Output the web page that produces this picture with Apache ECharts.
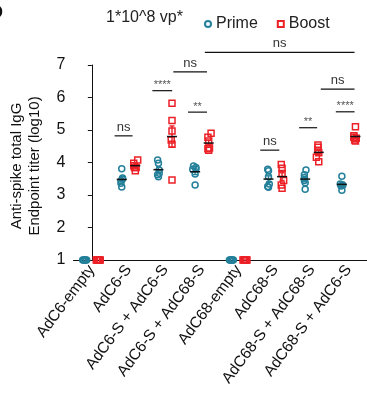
<!DOCTYPE html>
<html><head><meta charset="utf-8">
<script src="https://cdn.jsdelivr.net/npm/echarts@6/dist/echarts.min.js"></script>
<style>html,body{margin:0;padding:0;background:#fff}#c{width:367px;height:403px}</style>
</head><body><div id="c"></div>
<script>
const categories = ['AdC6-empty','AdC6-S','AdC6-S + AdC6-S','AdC6-S + AdC68-S','AdC68-empty','AdC68-S','AdC68-S + AdC68-S','AdC68-S + AdC6-S'];
const primeValues = [
  [1,1,1,1,1,1],
  [3.81,3.52,3.49,3.44,3.36,3.25],
  [4.08,3.98,3.77,3.67,3.62,3.56],
  [3.89,3.85,3.80,3.79,3.65,3.31],
  [1,1,1,1,1,1],
  [3.79,3.75,3.56,3.34,3.26,3.24],
  [3.77,3.62,3.54,3.45,3.38,3.18],
  [3.58,3.34,3.31,3.30,3.28,3.15]
];
const boostValues = [
  [1,1,1,1,1,1],
  [4.08,3.98,3.90,3.85,3.85,3.75],
  [5.82,5.29,4.97,4.69,4.56,3.46],
  [4.90,4.78,4.66,4.45,4.42,4.38],
  [1,1,1,1,1,1],
  [3.94,3.82,3.66,3.45,3.31,3.21],
  [4.54,4.47,4.38,4.30,4.16,4.02],
  [5.10,4.82,4.78,4.75,4.69,4.66]
];
const yTicks = [1,2,3,4,5,6,7];
const sigLabels = ['ns','****','ns','**','ns','ns','**','ns','****'];
const sigFrom   = [0.62,1.65,2.22,2.62,3.08,4.59,5.65,6.24,6.65];
const sigTo     = [1.11,2.19,3.14,3.14,7.16,5.11,6.14,7.16,7.16];
const sigY      = [4.82,6.21,6.79,5.55,7.39,4.38,5.07,6.26,5.56];

const TEAL = '#24809a', RED = '#ec2027';
const FONT = '"Liberation Sans", Arial, sans-serif';
const PX_X = 37, PX_Y = 32.5, GROUP_OFF = 0.185;

function swarm(vals){
  const order = vals.map((v,i)=>i).sort((a,b)=>vals[a]-vals[b]);
  const placed = [], off = new Array(vals.length);
  const cands = [0,-0.8,0.8,-1.6,1.6,-2.4,2.4];
  order.forEach(i=>{
    const y = vals[i]*PX_Y;
    let chosen = null, k = 0;
    for (const c of cands){
      let hit = false;
      placed.forEach(p=>{ if (Math.hypot(p.x-c,p.y-y) < 5) hit = true; });
      if (!hit){ chosen = c; break; }
    }
    if (chosen === null){
      placed.forEach(p=>{ if (Math.abs(p.y-y) < 5) k++; });
      chosen = cands[k % cands.length];
    }
    off[i] = chosen; placed.push({x:chosen,y});
  });
  return off;
}
function points(groups, sign){
  const out = [];
  groups.forEach((vals,gi)=>{
    const off = swarm(vals);
    vals.forEach((v,j)=> out.push([gi + sign*GROUP_OFF + off[j]/PX_X, v]));
  });
  return out;
}
function stats(groups, sign, ci){
  return groups.map((vals,gi)=>{
    const n = vals.length, m = vals.reduce((a,b)=>a+b,0)/n;
    const sd = Math.sqrt(vals.reduce((a,b)=>a+(b-m)*(b-m),0)/(n-1));
    return [gi + sign*GROUP_OFF, m, sd/Math.sqrt(n), ci];
  });
}
function renderMean(params, api){
  const x = api.value(0), m = api.value(1), s = api.value(2), ci = api.value(3);
  const c = api.coord([x,m]), t = api.coord([x,m+s]), b = api.coord([x,m-s]);
  const col = ci === 0 ? TEAL : RED;
  const ch = [];
  if (s > 0.001){
    ch.push({type:'line',shape:{x1:c[0],y1:t[1],x2:c[0],y2:b[1]},style:{stroke:col,lineWidth:1.4}});
    ch.push({type:'line',shape:{x1:c[0]-2.5,y1:t[1],x2:c[0]+2.5,y2:t[1]},style:{stroke:col,lineWidth:1.4}});
    ch.push({type:'line',shape:{x1:c[0]-2.5,y1:b[1],x2:c[0]+2.5,y2:b[1]},style:{stroke:col,lineWidth:1.4}});
    ch.push({type:'line',shape:{x1:c[0]-5,y1:c[1],x2:c[0]+5,y2:c[1]},style:{stroke:'#111',lineWidth:1.5}});
  }
  return {type:'group',children:ch};
}
function renderSig(params, api){
  const a = api.coord([api.value(0), api.value(2)]), b = api.coord([api.value(1), api.value(2)]);
  const lab = sigLabels[api.value(3)];
  const stars = lab.indexOf('*') >= 0;
  return {type:'group',children:[
    {type:'line',shape:{x1:a[0],y1:a[1],x2:b[0],y2:b[1]},style:{stroke:'#111',lineWidth:1.2}},
    {type:'text',x:(a[0]+b[0])/2,y:a[1]-(stars?0:2),style:{text:lab,fill:stars?'#555':'#333',
      font:(stars?'11px ':'13px ')+FONT,align:'center',verticalAlign:'bottom'}}
  ]};
}

const chart = echarts.init(document.getElementById('c'), null, {renderer:'canvas'});
chart.setOption({
  animation:false,
  backgroundColor:'#fff',
  textStyle:{fontFamily:FONT},
  grid:{left:73.5, top:65, width:296, bottom:143, containLabel:false},
  legend:{left:199, top:11, itemWidth:6, itemHeight:6, itemGap:19,
    textStyle:{fontSize:16, color:'#222', fontFamily:FONT},
    data:['Prime','Boost']},
  graphic:[
    {type:'text', left:106, top:10, style:{text:'1*10^8 vp*', font:'16px '+FONT, fill:'#222'}},
    {type:'text', left:-10, top:4, style:{text:'D', font:'bold 18px '+FONT, fill:'#111'}},
    {type:'text', x:26, y:166, rotation:Math.PI/2,
      style:{text:'Anti-spike total IgG\nEndpoint titer (log10)', font:'15px '+FONT, lineHeight:18,
        fill:'#111', align:'center', verticalAlign:'middle'}}
  ],
  xAxis:[
    {type:'category', data:categories, boundaryGap:true,
      axisLine:{lineStyle:{color:'#111',width:1}},
      axisTick:{alignWithLabel:true,length:4,lineStyle:{color:'#111'}},
      axisLabel:{rotate:53, fontSize:15.5, color:'#111', margin:7, interval:0, fontFamily:FONT}},
    {type:'value', min:-0.5, max:7.5, show:false}
  ],
  yAxis:{type:'value', min:yTicks[0], max:yTicks[yTicks.length-1], interval:1,
    splitLine:{show:false},
    axisLine:{show:true,lineStyle:{color:'#111',width:1}},
    axisTick:{show:true,length:4,lineStyle:{color:'#111'}},
    axisLabel:{fontSize:16,color:'#111',margin:8,fontFamily:FONT}},
  series:[
    {name:'Prime', type:'scatter', xAxisIndex:1, symbol:'circle', symbolSize:6,
      itemStyle:{color:'rgba(255,255,255,0)', borderColor:TEAL, borderWidth:1.5, opacity:1},
      data:points(primeValues,-1), z:2},
    {name:'Boost', type:'scatter', xAxisIndex:1, symbol:'rect', symbolSize:6,
      itemStyle:{color:'rgba(255,255,255,0)', borderColor:RED, borderWidth:1.5, opacity:1},
      data:points(boostValues,1), z:2},
    {type:'custom', xAxisIndex:1, renderItem:renderMean, z:3, silent:true,
      data:stats(primeValues,-1,0).concat(stats(boostValues,1,1))},
    {type:'custom', xAxisIndex:1, renderItem:renderSig, z:3, silent:true, clip:false,
      data:sigLabels.map((l,i)=>[sigFrom[i],sigTo[i],sigY[i],i])}
  ]
});
</script></body></html>
